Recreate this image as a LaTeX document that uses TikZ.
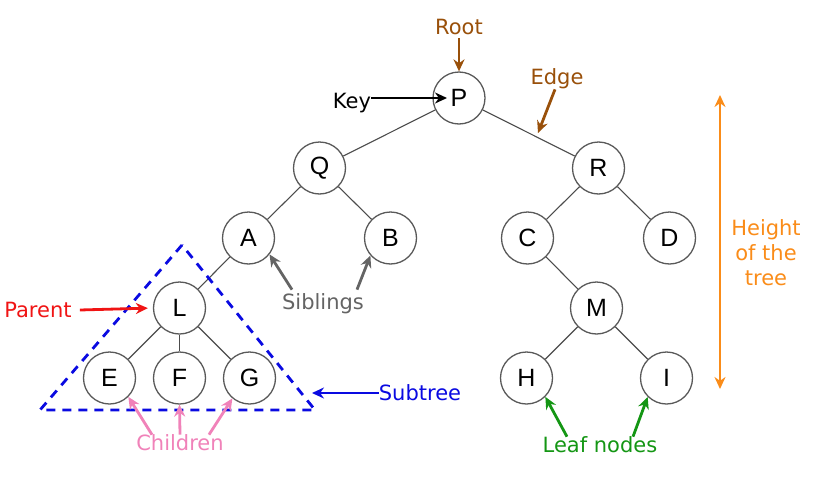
\documentclass[tikz,border=0pt]{standalone}
\usepackage{fontspec}
\setmainfont{DejaVu Sans}
\newfontfamily\keyfont{Liberation Sans}
\usetikzlibrary{arrows.meta}
\definecolor{rootbrown}{RGB}{153,80,10}
\definecolor{heightorange}{RGB}{250,140,25}
\definecolor{parentred}{RGB}{240,20,20}
\definecolor{sibgray}{RGB}{100,100,100}
\definecolor{subblue}{RGB}{10,10,225}
\definecolor{childpink}{RGB}{240,130,185}
\definecolor{leafgreen}{RGB}{20,150,20}

\begin{document}
\begin{tikzpicture}[
		x=1pt,y=-1pt,
		level distance=70pt,
		vertex/.style={circle,draw=black!65,line width=1.3pt,minimum size=52pt,inner sep=0pt,font=\keyfont\fontsize{25}{25}\selectfont},
		every child node/.style={vertex},
		edge from parent/.style={draw,black!70,line width=1.1pt},
		level 1/.style={sibling distance=279pt},
		level 2/.style={sibling distance=142pt},
		level 3/.style={sibling distance=138pt},
		level 4/.style={sibling distance=70pt},
		lbl/.style={font=\fontsize{21}{25}\selectfont,inner sep=0pt},
		pointer/.style={-{Stealth[length=12pt,width=11pt]},line width=2.8pt}
		]
		\useasboundingbox (0,0) rectangle (817,482);
		\node[vertex] (P) at (459,98) {P}
		child {node (Q) {Q}
			child {node (A) {A}
				child {node (L) {L}
					child {node (E) {E}}
					child {node (F) {F}}
					child {node (G) {G}}
				}
				child[missing]
			}
			child {node (B) {B}}
		}
		child {node (R) {R}
			child {node (C) {C}
				child[missing]
				child {node (M) {M}
					child[sibling distance=140pt] {node (H) {H}}
					child[sibling distance=140pt] {node (I) {I}}
				}
			}
			child {node (D) {D}}
		};
		
		\node[lbl,rootbrown] (root) at (459,27) {Root};
		\node[lbl] (key) at (352,103) {Key};
		\node[lbl,rootbrown] (edgelbl) at (557,79) {Edge};
		\node[lbl,parentred] (parent) at (38,310) {Parent};
		\node[lbl,sibgray] (sib) at (323,304) {Siblings};
		\node[lbl,subblue] (sub) at (420,393) {Subtree};
		\node[lbl,childpink] (children) at (180,443) {Children};
		\node[lbl,leafgreen] (leaf) at (600,445) {Leaf nodes};
		\node[lbl,heightorange,align=center] (height) at (766,253) {Height\\of the\\tree};
		\coordinate (etip) at (538,133);
		\coordinate (subtip) at (312,393);
		\coordinate (htop) at (720,95);
		\coordinate (hbot) at (720,389);
		
		\draw[subblue,line width=2.8pt,dash pattern=on 9pt off 7pt] (182,245) -- (40,410) -- (315,410) -- cycle;
		
		\draw[pointer,rootbrown,shorten <=3pt] (root.south) -- (P.north);
		\draw[pointer,shorten >=12pt] (key.east |- P) -- (P.center);
		\draw[pointer,rootbrown] ([xshift=-2pt]edgelbl.south) -- (etip);
		\draw[pointer,parentred,shorten >=5pt] ([xshift=8pt]parent.east) -- (L.west);
		\draw[pointer,sibgray] ([xshift=-31pt,yshift=4pt]sib.north) -- (A.-38);
		\draw[pointer,sibgray] ([xshift=34pt,yshift=4pt]sib.north) -- (B.221);
		\draw[pointer,subblue] (sub.west) -- (subtip);
		\draw[pointer,childpink] ([xshift=-28pt]children.north) -- (E.-45);
		\draw[pointer,childpink] (children.north) -- (F.south);
		\draw[pointer,childpink] ([xshift=29pt]children.north) -- (G.230);
		\draw[pointer,leafgreen] ([xshift=-33pt]leaf.north) -- (H.-45);
		\draw[pointer,leafgreen] ([xshift=33pt]leaf.north) -- (I.225);
		\draw[{Stealth[length=12pt,width=11pt]}-{Stealth[length=12pt,width=11pt]},heightorange,line width=2.8pt] (htop) -- (hbot);
	\end{tikzpicture}
\end{document}
